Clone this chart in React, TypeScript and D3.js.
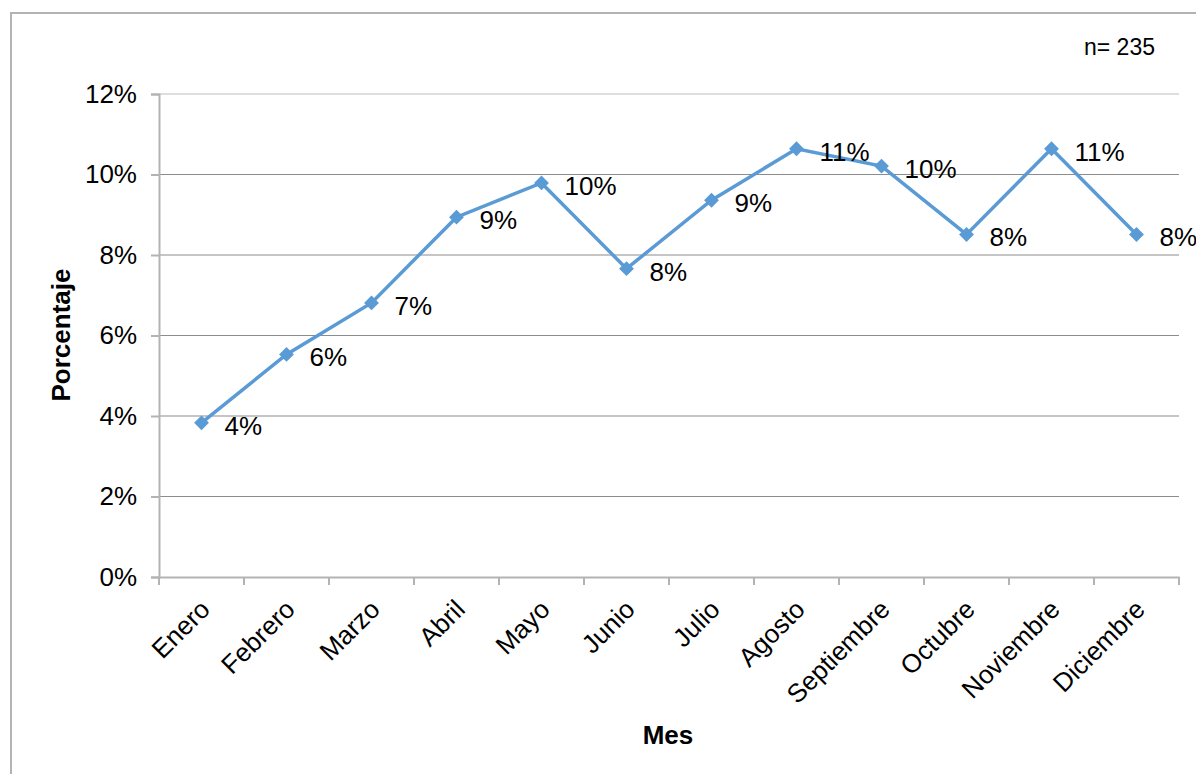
import React, { useRef, useEffect } from "react";
import * as d3 from "d3";

const months = ["Enero", "Febrero", "Marzo", "Abril", "Mayo", "Junio", "Julio", "Agosto", "Septiembre", "Octubre", "Noviembre", "Diciembre"];
const percent = [3.83, 5.53, 6.81, 8.94, 9.79, 7.66, 9.36, 10.64, 10.21, 8.51, 10.64, 8.51];
const labels = ["4%", "6%", "7%", "9%", "10%", "8%", "9%", "11%", "10%", "8%", "11%", "8%"];
const yTicks = [0, 2, 4, 6, 8, 10, 12];

const App: React.FC = () => {
  const svgRef = useRef<SVGSVGElement>(null);

  useEffect(() => {
    const svg = d3.select(svgRef.current);
    svg.selectAll("*").remove();
    const width = 1196;
    const height = 774;
    const margin = { top: 94, right: 17, bottom: 197, left: 159 };
    const font = "Liberation Sans, Arial, sans-serif";

    svg
      .append("rect")
      .attr("x", 11)
      .attr("y", 13)
      .attr("width", width)
      .attr("height", height)
      .attr("fill", "white")
      .attr("stroke", "#b3b3b3")
      .attr("stroke-width", 2);

    const x = d3
      .scaleBand()
      .domain(months)
      .range([margin.left, width - margin.right]);

    const y = d3
      .scaleLinear()
      .domain([0, 12])
      .range([height - margin.bottom, margin.top]);

    // gridlines
    svg
      .append("g")
      .selectAll("line")
      .data(yTicks.slice(1))
      .enter()
      .append("line")
      .attr("x1", margin.left)
      .attr("x2", width - margin.right)
      .attr("y1", (d) => y(d))
      .attr("y2", (d) => y(d))
      .attr("stroke", (d) => (d === 12 ? "#bdbdbd" : "#8c8c8c"))
      .attr("stroke-width", 1.2);

    // y axis
    const yAxis = svg
      .append("g")
      .attr("transform", `translate(${margin.left},0)`)
      .call(
        d3
          .axisLeft(y)
          .tickValues(yTicks)
          .tickSize(8)
          .tickPadding(14)
          .tickFormat((d) => `${d}%`)
      );
    yAxis.select(".domain").attr("stroke", "#b3b3b3").attr("stroke-width", 2);
    yAxis.selectAll(".tick line").attr("stroke", "#b3b3b3").attr("stroke-width", 2);
    yAxis
      .selectAll("text")
      .attr("font-family", font)
      .attr("font-size", 26)
      .attr("fill", "#000");

    // x axis
    const xAxis = svg
      .append("g")
      .attr("transform", `translate(0,${y(0)})`)
      .call(d3.axisBottom(x).tickSize(0).tickSizeOuter(0));
    xAxis.select(".domain").attr("stroke", "#b3b3b3").attr("stroke-width", 2);
    xAxis
      .append("g")
      .selectAll("line")
      .data(d3.range(months.length + 1))
      .enter()
      .append("line")
      .attr("x1", (i) => margin.left + i * x.step())
      .attr("x2", (i) => margin.left + i * x.step())
      .attr("y1", 0)
      .attr("y2", 8)
      .attr("stroke", "#b3b3b3")
      .attr("stroke-width", 2);
    xAxis
      .selectAll(".tick text")
      .attr("font-family", font)
      .attr("font-size", 26)
      .attr("fill", "#000")
      .attr("text-anchor", "end")
      .attr("dy", 0)
      .attr("y", 0)
      .attr("transform", "translate(10,34) rotate(-45)");

    // line
    const line = d3
      .line<number>()
      .x((_, i) => x(months[i])! + x.bandwidth() / 2)
      .y((d) => y(d));

    svg
      .append("path")
      .datum(percent)
      .attr("d", line)
      .attr("fill", "none")
      .attr("stroke", "#5b9bd5")
      .attr("stroke-width", 3.5);

    svg
      .append("g")
      .selectAll("path")
      .data(percent)
      .enter()
      .append("path")
      .attr("d", d3.symbol(d3.symbolDiamond2, 140)())
      .attr("transform", (d, i) => `translate(${x(months[i])! + x.bandwidth() / 2},${y(d)})`)
      .attr("fill", "#5b9bd5");

    svg
      .append("g")
      .selectAll("text")
      .data(percent)
      .enter()
      .append("text")
      .attr("x", (_, i) => x(months[i])! + x.bandwidth() / 2 + 23)
      .attr("y", (d) => y(d) + 12)
      .attr("font-family", font)
      .attr("font-size", 26)
      .attr("fill", "#000")
      .text((_, i) => labels[i]);

    svg
      .append("text")
      .attr("x", 1155)
      .attr("y", 55)
      .attr("text-anchor", "end")
      .attr("font-family", font)
      .attr("font-size", 23)
      .text("n= 235");

    svg
      .append("text")
      .attr("x", 668)
      .attr("y", 744)
      .attr("text-anchor", "middle")
      .attr("font-family", font)
      .attr("font-size", 26)
      .attr("font-weight", "bold")
      .text("Mes");

    svg
      .append("text")
      .attr("transform", `translate(70,335) rotate(-90)`)
      .attr("text-anchor", "middle")
      .attr("font-family", font)
      .attr("font-size", 26)
      .attr("font-weight", "bold")
      .text("Porcentaje");
  }, []);

  return (
    <svg
      ref={svgRef}
      width={1196}
      height={774}
      style={{ position: "absolute", left: 0, top: 0 }}
    ></svg>
  );
};

export default App;
